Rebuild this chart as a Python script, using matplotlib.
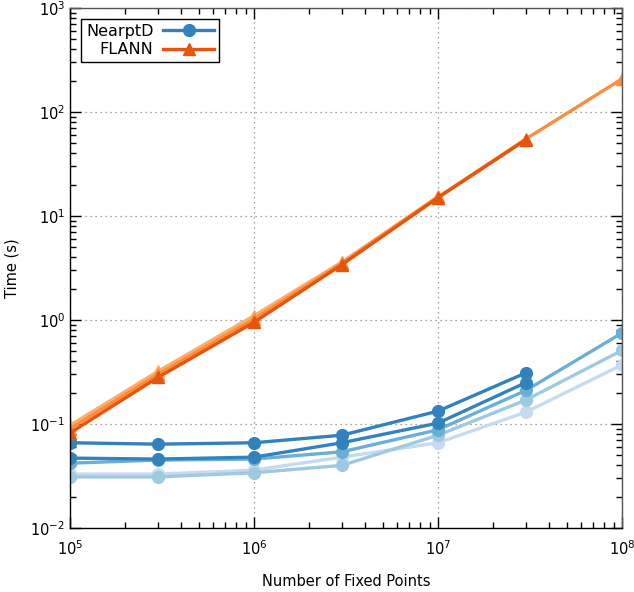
import matplotlib
matplotlib.use("Agg")
import matplotlib.pyplot as plt
from matplotlib.ticker import LogLocator, NullFormatter

# Data
n_points = [1e5, 3e5, 1e6, 3e6, 1e7, 3e7, 1e8]

nearptd_1 = [0.066, 0.064, 0.066, 0.078, 0.133, 0.31]
nearptd_2 = [0.047, 0.046, 0.048, 0.066, 0.102, 0.25]
nearptd_3 = [0.042, 0.045, 0.046, 0.054, 0.088, 0.21, 0.75]
nearptd_4 = [0.031, 0.031, 0.034, 0.040, 0.078, 0.17, 0.51]
nearptd_5 = [0.033, 0.033, 0.036, 0.048, 0.066, 0.13, 0.37]

flann_1 = [0.082, 0.28, 0.95, 3.4, 15.0, 54.0]
flann_2 = [0.090, 0.30, 1.02, 3.5, 15.2, 55.0, 208.0]
flann_3 = [0.097, 0.32, 1.10, 3.6, 15.4]

blue_series = [nearptd_5, nearptd_4, nearptd_3, nearptd_2, nearptd_1]
blue_colors = ['#c6dbef', '#9ecae1', '#6baed6', '#3182bd', '#3182bd']
orange_series = [flann_3, flann_2, flann_1]
orange_colors = ['#fdae6b', '#fd8d3c', '#e6550d']

fig = plt.figure(figsize=(6.34, 5.92), dpi=100)
ax = fig.add_axes([70/634, 1-528/592, (622-70)/634, (528-8)/592])

lw = 2.4
for i, (vals, c) in enumerate(zip(blue_series, blue_colors)):
    ax.plot(n_points[:len(vals)], vals, color=c, lw=lw, marker='o', ms=8.5,
            label='NearptD' if i == len(blue_series) - 1 else None)
for i, (vals, c) in enumerate(zip(orange_series, orange_colors)):
    ax.plot(n_points[:len(vals)], vals, color=c, lw=lw, marker='^', ms=9,
            label='FLANN' if i == len(orange_series) - 1 else None)

ax.set_xscale('log')
ax.set_yscale('log')
ax.set_xlim(1e5, 1e8)
ax.set_ylim(1e-2, 1e3)

ax.xaxis.set_minor_locator(LogLocator(base=10, subs=range(2, 10), numticks=20))
ax.yaxis.set_minor_locator(LogLocator(base=10, subs=range(2, 10), numticks=20))
ax.xaxis.set_minor_formatter(NullFormatter())
ax.yaxis.set_minor_formatter(NullFormatter())

ax.tick_params(which='both', direction='in', top=True, right=True, labelsize=10.5)
ax.tick_params(which='major', length=8, width=1)
ax.tick_params(which='minor', length=4, width=1)
ax.tick_params(axis='x', pad=8)

ax.grid(True, which='major', linestyle=(0, (1, 3)), color='#888888', lw=0.9)

for s in ['left', 'bottom']:
    ax.spines[s].set_color('black')
    ax.spines[s].set_linewidth(1.0)
for s in ['right', 'top']:
    ax.spines[s].set_color('#555555')
    ax.spines[s].set_linewidth(1.0)

ax.set_xlabel('Number of Fixed Points', fontsize=10.5, labelpad=12)
ax.set_ylabel('Time (s)', fontsize=10.5, labelpad=8)

handles, labels = ax.get_legend_handles_labels()
leg = ax.legend(handles, labels, loc='upper left', markerfirst=False, fontsize=11.5,
                frameon=True, fancybox=False, framealpha=1, edgecolor='black',
                handlelength=3.2, borderaxespad=0.7, borderpad=0.3,
                labelspacing=0.2, handletextpad=0.6)
leg.get_frame().set_linewidth(1.0)

fig.savefig('out.png', dpi=100)
